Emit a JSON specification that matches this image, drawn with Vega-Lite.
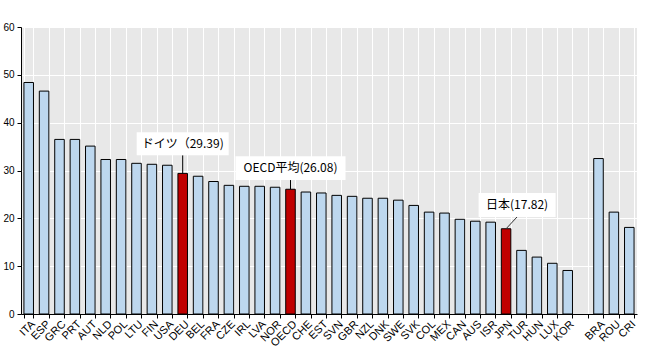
{
  "$schema": "https://vega.github.io/schema/vega-lite/v6.json",
  "width": 616,
  "height": 287,
  "autosize": "none",
  "padding": {"left": 21, "top": 27, "right": 8, "bottom": 36},
  "background": "white",
  "config": {
    "view": {"fill": "#E8E8E8", "stroke": null},
    "font": "Liberation Sans"
  },
  "datasets": {
    "bars": [
      {"country": "ITA", "value": 48.4, "type": "other"},
      {"country": "ESP", "value": 46.6, "type": "other"},
      {"country": "GRC", "value": 36.5, "type": "other"},
      {"country": "PRT", "value": 36.5, "type": "other"},
      {"country": "AUT", "value": 35.1, "type": "other"},
      {"country": "NLD", "value": 32.3, "type": "other"},
      {"country": "POL", "value": 32.3, "type": "other"},
      {"country": "LTU", "value": 31.5, "type": "other"},
      {"country": "FIN", "value": 31.3, "type": "other"},
      {"country": "USA", "value": 31.1, "type": "other"},
      {"country": "DEU", "value": 29.39, "type": "highlight"},
      {"country": "BEL", "value": 28.8, "type": "other"},
      {"country": "FRA", "value": 27.7, "type": "other"},
      {"country": "CZE", "value": 26.9, "type": "other"},
      {"country": "IRL", "value": 26.7, "type": "other"},
      {"country": "LVA", "value": 26.7, "type": "other"},
      {"country": "NOR", "value": 26.5, "type": "other"},
      {"country": "OECD", "value": 26.08, "type": "highlight"},
      {"country": "CHE", "value": 25.5, "type": "other"},
      {"country": "EST", "value": 25.3, "type": "other"},
      {"country": "SVN", "value": 24.8, "type": "other"},
      {"country": "GBR", "value": 24.6, "type": "other"},
      {"country": "NZL", "value": 24.2, "type": "other"},
      {"country": "DNK", "value": 24.2, "type": "other"},
      {"country": "SWE", "value": 23.8, "type": "other"},
      {"country": "SVK", "value": 22.7, "type": "other"},
      {"country": "COL", "value": 21.3, "type": "other"},
      {"country": "MEX", "value": 21.1, "type": "other"},
      {"country": "CAN", "value": 19.8, "type": "other"},
      {"country": "AUS", "value": 19.4, "type": "other"},
      {"country": "ISR", "value": 19.2, "type": "other"},
      {"country": "JPN", "value": 17.82, "type": "highlight"},
      {"country": "TUR", "value": 13.3, "type": "other"},
      {"country": "HUN", "value": 11.9, "type": "other"},
      {"country": "LUX", "value": 10.6, "type": "other"},
      {"country": "KOR", "value": 9.1, "type": "other"},
      {"country": "BRA", "value": 32.5, "type": "other"},
      {"country": "ROU", "value": 21.3, "type": "other"},
      {"country": "CRI", "value": 18.1, "type": "other"}
    ],
    "notes": [
      {"country": "DEU", "label": "ドイツ（29.39)", "value": 29.39, "top": 38.0, "bottom": 33.2},
      {"country": "OECD", "label": "OECD平均(26.08)", "value": 26.08, "top": 33.0, "bottom": 28.0},
      {"country": "JPN", "label": "日本(17.82)", "value": 17.82, "top": 25.3, "bottom": 20.3}
    ]
  },
  "encoding": {
    "x": {
      "field": "country",
      "type": "nominal",
      "sort": null,
      "scale": {
        "domain": ["ITA","ESP","GRC","PRT","AUT","NLD","POL","LTU","FIN","USA","DEU","BEL","FRA","CZE","IRL","LVA","NOR","OECD","CHE","EST","SVN","GBR","NZL","DNK","SWE","SVK","COL","MEX","CAN","AUS","ISR","JPN","TUR","HUN","LUX","KOR","_","BRA","ROU","CRI"],
        "paddingInner": 0.38,
        "paddingOuter": 0.19
      },
      "axis": {
        "title": null,
        "tickBand": "extent",
        "grid": true,
        "gridColor": "white",
        "gridWidth": 1,
        "domainColor": "black",
        "tickColor": "black",
        "tickSize": 4,
        "labelAngle": -45,
        "labelAlign": "right",
        "labelBaseline": "top",
        "labelFontSize": 11,
        "labelColor": "#000",
        "labelPadding": 0,
        "labelExpr": "datum.value == '_' ? '' : datum.value"
      }
    }
  },
  "layer": [
    {
      "data": {"name": "bars"},
      "mark": {"type": "bar", "stroke": "black", "strokeWidth": 1},
      "encoding": {
        "y": {
          "field": "value",
          "type": "quantitative",
          "scale": {"domain": [0, 60], "nice": false},
          "axis": {
            "title": null,
            "values": [0, 10, 20, 30, 40, 50, 60],
            "grid": true,
            "gridColor": "white",
            "gridWidth": 1,
            "domainColor": "black",
            "tickColor": "black",
            "tickSize": 4,
            "labelFontSize": 10,
            "labelColor": "#000",
            "labelPadding": 3
          }
        },
        "color": {
          "field": "type",
          "type": "nominal",
          "scale": {"domain": ["other", "highlight"], "range": ["#BDD7EE", "#C00000"]},
          "legend": null
        }
      }
    },
    {
      "data": {"name": "notes"},
      "transform": [{"filter": "datum.country == 'DEU'"}],
      "layer": [
        {"mark": {"type": "rule", "color": "black", "strokeWidth": 1}, "encoding": {"y": {"field": "value", "type": "quantitative"}, "y2": {"field": "bottom"}}},
        {"mark": {"type": "bar", "width": 92, "color": "white"}, "encoding": {"y": {"field": "top", "type": "quantitative"}, "y2": {"field": "bottom"}}},
        {"mark": {"type": "text", "font": "Noto Sans CJK JP", "fontSize": 12, "color": "#000", "baseline": "middle", "yOffset": 11.5}, "encoding": {"y": {"field": "top", "type": "quantitative"}, "text": {"field": "label"}}}
      ]
    },
    {
      "data": {"name": "notes"},
      "transform": [{"filter": "datum.country == 'OECD'"}],
      "layer": [
        {"mark": {"type": "rule", "color": "black", "strokeWidth": 1}, "encoding": {"y": {"field": "value", "type": "quantitative"}, "y2": {"field": "bottom"}}},
        {"mark": {"type": "bar", "width": 110, "color": "white"}, "encoding": {"y": {"field": "top", "type": "quantitative"}, "y2": {"field": "bottom"}}},
        {"mark": {"type": "text", "font": "Noto Sans CJK JP", "fontSize": 12, "color": "#000", "baseline": "middle", "yOffset": 12}, "encoding": {"y": {"field": "top", "type": "quantitative"}, "text": {"field": "label"}}}
      ]
    },
    {
      "data": {"name": "notes"},
      "transform": [{"filter": "datum.country == 'JPN'"}],
      "layer": [
        {"mark": {"type": "rule", "color": "#333", "strokeWidth": 1, "x2Offset": 11}, "encoding": {"x2": {"field": "country"}, "y": {"field": "value", "type": "quantitative"}, "y2": {"field": "bottom"}}},
        {"mark": {"type": "bar", "width": 77, "color": "white", "xOffset": 11}, "encoding": {"y": {"field": "top", "type": "quantitative"}, "y2": {"field": "bottom"}}},
        {"mark": {"type": "text", "font": "Noto Sans CJK JP", "fontSize": 12, "color": "#000", "baseline": "middle", "yOffset": 12, "xOffset": 11}, "encoding": {"y": {"field": "top", "type": "quantitative"}, "text": {"field": "label"}}}
      ]
    }
  ]
}
